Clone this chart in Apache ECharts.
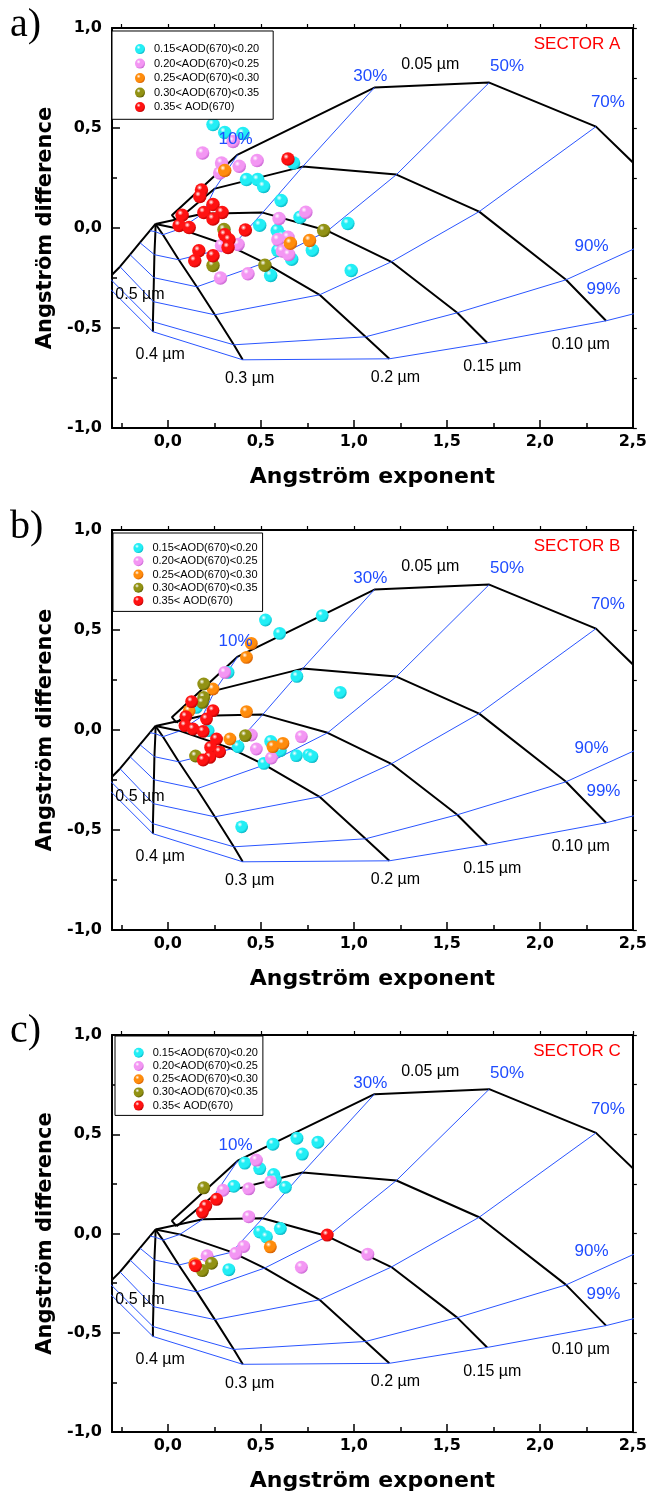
<!DOCTYPE html>
<html><head><meta charset="utf-8">
<script src="https://cdn.jsdelivr.net/npm/echarts@6/dist/echarts.min.js"></script>
<style>html,body{margin:0;padding:0;background:#fff}#c{width:650px;height:1493px}</style>
</head><body><div id="c"></div>
<script>
// ---------------- DATA ----------------
const aodClasses = ['0.15<AOD(670)<0.20','0.20<AOD(670)<0.25','0.25<AOD(670)<0.30','0.30<AOD(670)<0.35','0.35< AOD(670)'];
const sectorTitles = ['SECTOR A','SECTOR B','SECTOR C'];
const panelTags = ['a)','b)','c)'];
const xTickValues = [0,0.5,1,1.5,2,2.5];
const xMinorTickValues = [-0.25,0.25,0.75,1.25,1.75,2.25];
const xTopTickValues = [-0.25,0,0.25,0.5,0.75,1,1.25,1.5,1.75,2,2.25,2.5];

// Sector A  [Angstrom exponent, Angstrom difference]
const sectorA_015_020 = [[0.243,0.517],[0.306,0.478],[0.404,0.472],[0.676,0.325],[0.423,0.242],[0.483,0.242],[0.515,0.208],[0.609,0.138],[0.711,0.054],[0.494,0.014],[0.968,0.022],[0.588,-0.012],[0.617,-0.042],[0.592,-0.112],[0.666,-0.156],[0.777,-0.111],[0.986,-0.213],[0.553,-0.237]];
const sectorA_020_025 = [[0.187,0.375],[0.351,0.433],[0.289,0.325],[0.279,0.275],[0.384,0.309],[0.48,0.337],[0.598,0.048],[0.742,0.079],[0.289,-0.087],[0.378,-0.082],[0.592,-0.058],[0.646,-0.046],[0.616,-0.115],[0.65,-0.133],[0.283,-0.25],[0.431,-0.229]];
const sectorA_025_030 = [[0.306,0.288],[0.659,-0.076],[0.762,-0.062]];
const sectorA_030_035 = [[0.838,-0.012],[0.302,-0.008],[0.243,-0.188],[0.522,-0.186]];
const sectorA_gt035 = [[0.646,0.345],[0.181,0.19],[0.172,0.158],[0.077,0.064],[0.061,0.013],[0.115,0.003],[0.243,0.117],[0.194,0.078],[0.292,0.078],[0.243,0.045],[0.417,-0.01],[0.306,-0.034],[0.329,-0.059],[0.324,-0.097],[0.167,-0.114],[0.145,-0.164],[0.243,-0.139]];

// Sector B
const sectorB_015_020 = [[0.525,0.55],[0.83,0.572],[0.601,0.483],[0.324,0.288],[0.694,0.268],[0.927,0.188],[0.154,0.113],[0.217,-0.003],[0.378,-0.083],[0.553,-0.057],[0.605,-0.103],[0.517,-0.167],[0.691,-0.128],[0.758,-0.125],[0.775,-0.133],[0.397,-0.484]];
const sectorB_020_025 = [[0.306,0.288],[0.449,-0.025],[0.476,-0.095],[0.557,-0.14],[0.718,-0.033]];
const sectorB_025_030 = [[0.449,0.433],[0.423,0.363],[0.243,0.205],[0.423,0.092],[0.115,0.096],[0.334,-0.045],[0.565,-0.083],[0.619,-0.067]];
const sectorB_030_035 = [[0.193,0.23],[0.193,0.163],[0.186,0.138],[0.417,-0.028],[0.149,-0.13]];
const sectorB_gt035 = [[0.128,0.142],[0.243,0.097],[0.208,0.055],[0.097,0.067],[0.092,0.022],[0.136,0.005],[0.19,-0.007],[0.262,-0.045],[0.23,-0.087],[0.279,-0.109],[0.226,-0.137],[0.19,-0.15]];

// Sector C
const sectorC_015_020 = [[0.565,0.45],[0.694,0.48],[0.807,0.46],[0.723,0.4],[0.414,0.355],[0.494,0.327],[0.569,0.297],[0.578,0.272],[0.632,0.233],[0.355,0.238],[0.494,0.008],[0.53,-0.017],[0.605,0.025],[0.328,-0.182]];
const sectorC_020_025 = [[0.476,0.37],[0.297,0.218],[0.435,0.225],[0.553,0.26],[0.435,0.085],[0.408,-0.065],[0.365,-0.1],[0.211,-0.112],[0.718,-0.17],[1.075,-0.104]];
const sectorC_025_030 = [[0.551,-0.067],[0.145,-0.153]];
const sectorC_030_035 = [[0.193,0.23],[0.235,-0.15],[0.186,-0.187]];
const sectorC_gt035 = [[0.262,0.172],[0.204,0.138],[0.186,0.108],[0.857,-0.008],[0.149,-0.162]];

// Classification grid: nodes for fine-mode radius, at fine fractions 1,10,30,50,70,90,99 %
const fineRadii = ['0.05 µm','0.10 µm','0.15 µm','0.2 µm','0.3 µm','0.4 µm','0.5 µm'];
const fineFractions = ['1%','10%','30%','50%','70%','90%','99%'];
const gridNodes_005 = [[0.022,0.064],[0.376,0.367],[1.111,0.702],[1.728,0.727],[2.302,0.507],[2.828,0.032],[2.909,-0.334]];
const gridNodes_010 = [[0.047,0.0365],[0.253,0.197],[0.725,0.307],[1.229,0.267],[1.674,0.082],[2.141,-0.259],[2.356,-0.464]];
const gridNodes_015 = [[-0.066,0.02],[0.188,0.0715],[0.51,0.077],[0.859,-0.014],[1.202,-0.169],[1.556,-0.424],[1.717,-0.574]];
const gridNodes_020 = [[-0.066,0.02],[0.065,-0.0045],[0.344,-0.094],[0.521,-0.174],[0.816,-0.334],[1.063,-0.544],[1.191,-0.654]];
const gridNodes_030 = [[-0.066,0.02],[-0.026,-0.0335],[0.059,-0.159],[0.156,-0.294],[0.253,-0.434],[0.355,-0.584],[0.403,-0.659]];
const gridNodes_040 = [[-0.066,0.02],[-0.0666,-0.0185],[-0.072,-0.1335],[-0.0747,-0.2485],[-0.0774,-0.3685],[-0.08,-0.4685],[-0.08,-0.5185]];
const gridNodes_050 = [[-0.066,0.02],[-0.096,-0.0135],[-0.15,-0.0735],[-0.203,-0.1335],[-0.257,-0.1935],[-0.316,-0.2485],[-0.338,-0.2785]];

// annotation anchors (data coordinates)
const radiusLabelPos = [[1.411,0.817],[2.22,-0.584],[1.744,-0.694],[1.224,-0.748],[0.44,-0.754],[-0.041,-0.634],[-0.15,-0.334]];
const fractionLabelText = ['10%','30%','50%','70%','90%','99%'];
const fractionLabelPos = [[0.364,0.442],[1.089,0.757],[1.824,0.807],[2.366,0.626],[2.278,-0.092],[2.342,-0.308]];
const sectorLabelPos = [2.2,0.92];

// ---------------- STYLE / LAYOUT ----------------
const classColors = [['#22eef5','#06b0c0'],['#f396f3','#c560d0'],['#ff8c0c','#cf5a00'],['#929214','#585800'],['#ff1212','#b50000']];
const gridTop = [28,530,1035], gridHeight = [400,400,399];
const symbolSizes = [13.5,12.8,13];
const legendBox = [
  {left:112, top:31, padding:[12.6,14,6.7,23], itemGap:3.5},
  {left:113, top:533, padding:[9.6,5,5,20.4], itemGap:2.2},
  {left:115, top:1036, padding:[11.3,5,4.3,18.7], itemGap:2.2}
];
const tagTop = [5,507,1011];
const blueLine = '#2a55ff';
const blueText = '#1f4cff';

function sphere(c){
  return {type:'radial', x:0.36, y:0.32, r:0.72, colorStops:[
    {offset:0,color:'#ffffff'},{offset:0.28,color:c[0]},{offset:0.72,color:c[0]},{offset:1,color:c[1]}]};
}
const fmt = v => v.toFixed(1).replace('.', ',');
const boldAxis = {color:'#000', fontFamily:'DejaVu Sans', fontWeight:'bold', fontSize:16};

const panelData = [
  [sectorA_015_020,sectorA_020_025,sectorA_025_030,sectorA_030_035,sectorA_gt035],
  [sectorB_015_020,sectorB_020_025,sectorB_025_030,sectorB_030_035,sectorB_gt035],
  [sectorC_015_020,sectorC_020_025,sectorC_025_030,sectorC_030_035,sectorC_gt035]
];
const radiusNodes = [gridNodes_005,gridNodes_010,gridNodes_015,gridNodes_020,gridNodes_030,gridNodes_040,gridNodes_050];

const grids = [], xAxes = [], yAxes = [], series = [], legends = [], titles = [];
for (let i = 0; i < 3; i++) {
  grids.push({left:112, width:522, top:gridTop[i], height:gridHeight[i]});
  xAxes.push({gridIndex:i, type:'value', min:-0.3, max:2.5, position:'bottom',
    axisLine:{onZero:false, lineStyle:{color:'#000', width:2}},
    axisTick:{inside:true, length:8, customValues:xTickValues, lineStyle:{color:'#000', width:1.5}},
    axisLabel:Object.assign({customValues:xTickValues, formatter:fmt, margin:6}, boldAxis),
    splitLine:{show:false},
    name:'Angström exponent', nameLocation:'middle', nameGap:38,
    nameTextStyle:{color:'#000', fontFamily:'DejaVu Sans', fontWeight:'bold', fontSize:22}});
  xAxes.push({gridIndex:i, type:'value', min:-0.3, max:2.5, position:'bottom',
    axisLine:{show:false, onZero:false},
    axisTick:{inside:true, length:5, customValues:xMinorTickValues, lineStyle:{color:'#000', width:1.5}},
    axisLabel:{show:false}, splitLine:{show:false}});
  xAxes.push({gridIndex:i, type:'value', min:-0.3, max:2.5, position:'top',
    axisLine:{onZero:false, lineStyle:{color:'#000', width:2}},
    axisTick:{inside:false, length:4, customValues:xTopTickValues, lineStyle:{color:'#000', width:1.2}},
    axisLabel:{show:false}, splitLine:{show:false}});
  yAxes.push({gridIndex:i, type:'value', min:-1, max:1, interval:0.5, position:'left',
    axisLine:{onZero:false, lineStyle:{color:'#000', width:2}},
    axisTick:{inside:true, length:8, lineStyle:{color:'#000', width:1.5}},
    minorTick:{show:true, splitNumber:2, length:5, lineStyle:{color:'#000', width:1.5}},
    axisLabel:Object.assign({formatter:fmt, margin:10}, boldAxis),
    splitLine:{show:false},
    name:'Angström difference', nameLocation:'middle', nameGap:48,
    nameTextStyle:{color:'#000', fontFamily:'DejaVu Sans', fontWeight:'bold', fontSize:21}});
  yAxes.push({gridIndex:i, type:'value', min:-1, max:1, interval:0.25, position:'right',
    axisLine:{onZero:false, lineStyle:{color:'#000', width:2}},
    axisTick:{inside:false, length:4, lineStyle:{color:'#000', width:1.2}},
    axisLabel:{show:false}, splitLine:{show:false}});

  const xi = 3*i, yi = 2*i;
  // black lines: constant fine-mode radius
  radiusNodes.forEach((nodes, r) => {
    const pts = r === 0 ? [gridNodes_010[0]].concat(nodes) : nodes;
    series.push({type:'line', xAxisIndex:xi, yAxisIndex:yi, data:pts, symbol:'none', silent:true, z:1,
      lineStyle:{color:'#000', width:2}, clip:true, animation:false});
  });
  // blue lines: constant fine-mode fraction
  for (let j = 1; j < fineFractions.length; j++) {
    series.push({type:'line', xAxisIndex:xi, yAxisIndex:yi, data:radiusNodes.map(n => n[j]), symbol:'none', silent:true, z:1,
      lineStyle:{color:blueLine, width:1}, clip:true, animation:false});
  }
  // scatter classes
  panelData[i].forEach((d, k) => {
    series.push({type:'scatter', name:aodClasses[k], xAxisIndex:xi, yAxisIndex:yi, data:d, symbol:'circle',
      symbolSize:symbolSizes[i], z:3, itemStyle:{color:sphere(classColors[k]), opacity:1}, animation:false});
  });
  // annotations
  const ann = [];
  fineRadii.forEach((t, r) => ann.push({value:radiusLabelPos[r], name:t, label:{color:'#000', fontSize:16}}));
  fractionLabelText.forEach((t, r) => ann.push({value:fractionLabelPos[r], name:t, label:{color:blueText, fontSize:17}}));
  ann.push({value:sectorLabelPos, name:sectorTitles[i], label:{color:'#ff0000', fontSize:17}});
  series.push({type:'scatter', xAxisIndex:xi, yAxisIndex:yi, data:ann, symbolSize:0, silent:true, z:5, clip:false,
    itemStyle:{opacity:1, color:'transparent'},
    label:{show:true, position:'inside', formatter:'{b}', fontFamily:'Liberation Sans', opacity:1}, animation:false});

  legends.push(Object.assign({orient:'vertical', icon:'circle', itemWidth:18, itemHeight:10,
    borderColor:'#000', borderWidth:1, backgroundColor:'#fff', borderRadius:0,
    textStyle:{fontFamily:'Liberation Sans', fontSize:11, color:'#000', lineHeight:10},
    data:aodClasses, selectedMode:false}, legendBox[i]));
  titles.push({text:panelTags[i], left:10, top:tagTop[i], padding:0,
    textStyle:{fontFamily:'Liberation Serif', fontSize:40, fontWeight:'normal', color:'#000'}});
}

const chart = echarts.init(document.getElementById('c'), null, {renderer:'canvas'});
chart.setOption({animation:false, backgroundColor:'#fff', title:titles, legend:legends,
  grid:grids, xAxis:xAxes, yAxis:yAxes, series:series});
</script></body></html>
